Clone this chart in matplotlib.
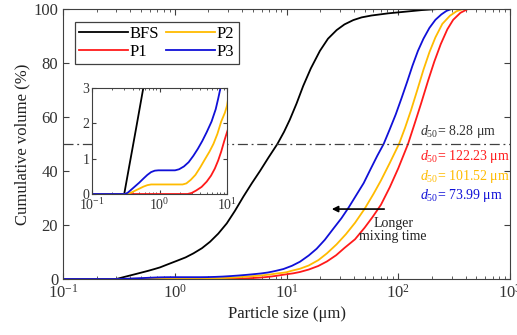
import matplotlib
matplotlib.use('Agg')
import matplotlib.pyplot as plt
from matplotlib.ticker import LogLocator, FixedLocator, NullFormatter

# particle size distributions, cumulative volume (%) vs size (um)
size_bfs = [0.1, 0.30, 0.33, 0.36, 0.40, 0.45, 0.50, 0.575, 0.66, 0.738, 0.85, 1.04, 1.25,
            1.47, 1.75, 2.07, 2.45, 2.92, 3.45, 4.11, 4.9, 5.79, 6.9, 8.28, 9.5, 10.7, 12.3,
            14.1, 16.5, 19.9, 23.5, 28.1, 33, 39.6, 47, 57.7, 81.5, 115, 162, 227, 1000]
cum_bfs = [0, 0, 0.44, 0.84, 1.32, 1.86, 2.35, 3.0, 3.7, 4.3, 5.3, 6.7, 8.0,
           9.5, 11.4, 13.8, 16.8, 20.6, 25.2, 30.5, 35.5, 40.0, 45.0, 50, 54.5, 59.0, 65.0,
           71.5, 78.0, 84.5, 89.0, 92.2, 94.3, 95.9, 96.9, 97.6, 98.4, 99.0, 99.6, 100, 100]

size_p1 = [0.1, 2.6, 3.0, 3.5, 4.2, 5.0, 5.8, 6.6, 7.4, 8.2, 9.1, 10, 11.5, 13.2, 15.8,
           19.2, 23, 27.8, 33, 41, 50, 59, 70, 84, 100, 122.23, 140, 160, 185, 210, 240,
           275, 310, 360, 420, 1000]
cum_p1 = [0, 0, 0.03, 0.1, 0.2, 0.35, 0.52, 0.72, 0.95, 1.2, 1.5, 1.75, 2.1, 2.6, 3.5,
          4.8, 6.5, 8.8, 11.5, 14.7, 19.0, 23.0, 27.5, 34.0, 41.0, 50, 57.5, 65.0, 73.5, 80.5, 87.0,
          92.5, 96.0, 98.6, 100, 100]

size_p2 = [0.1, 0.33, 0.37, 0.42, 0.5, 0.58, 0.66, 0.75, 2.2, 2.5, 2.9, 3.4, 4.0, 4.7,
           5.5, 6.3, 7.2, 8.2, 9.3, 10, 11, 13.2, 15.8, 19.3, 23, 28, 34, 41, 50, 60, 70,
           84, 101.52, 115, 130, 148, 168, 190, 215, 248, 290, 333, 380, 1000]
cum_p2 = [0, 0, 0.03, 0.08, 0.15, 0.21, 0.25, 0.27, 0.27, 0.3, 0.4, 0.54, 0.75, 0.98,
          1.2, 1.42, 1.7, 2.05, 2.3, 2.5, 3.0, 3.8, 5.0, 7.0, 9.5, 12.8, 16.6, 20.8, 26.0, 31.5, 36.5,
          43.0, 50, 56.0, 62.5, 70.0, 77.5, 84.0, 89.5, 94.5, 97.5, 99.2, 100, 100]

size_p3 = [0.1, 0.31, 0.34, 0.38, 0.43, 0.5, 0.58, 0.66, 0.75, 0.85, 0.96, 1.7, 1.95, 2.3,
           2.7, 3.17, 3.7, 4.3, 5.0, 5.9, 6.8, 7.4, 8.0, 9.4, 11.2, 13.2, 15.8, 18.6, 22,
           26.2, 31, 36, 42, 49, 57, 65, 73.99, 84, 95, 107, 120, 134, 150, 168, 190, 215,
           243, 270, 300, 1000]
cum_p3 = [0, 0, 0.04, 0.12, 0.21, 0.32, 0.44, 0.54, 0.62, 0.66, 0.67, 0.67, 0.7, 0.78,
          0.9, 1.08, 1.28, 1.5, 1.75, 2.05, 2.4, 2.7, 3.0, 3.7, 4.9, 6.4, 8.7, 11.2, 14.5,
          18.6, 22.5, 26.5, 31.0, 35.5, 41.0, 45.7, 50, 55.5, 61.0, 67.0, 73.0, 79.0, 84.5, 89.0,
          93.0, 96.0, 98.0, 99.3, 100, 100]

labels = ['BFS', 'P1', 'P2', 'P3']
colors = ['black', '#FF1A1A', '#FFBB00', '#1010D8']
d50 = [8.28, 122.23, 101.52, 73.99]
d50_y = [54.8, 45.2, 38.1, 31.1]

plt.rcParams['font.family'] = 'Liberation Serif'
plt.rcParams['mathtext.fontset'] = 'custom'
plt.rcParams['mathtext.rm'] = 'Liberation Serif'
plt.rcParams['mathtext.it'] = 'Liberation Serif:italic'
plt.rcParams['axes.edgecolor'] = '#404040'
plt.rcParams['xtick.color'] = '#404040'
plt.rcParams['ytick.color'] = '#404040'
plt.rcParams['xtick.labelcolor'] = '#333333'
plt.rcParams['ytick.labelcolor'] = '#333333'


def style_axes(ax, size_major, size_minor):
    ax.set_xscale('log')
    ax.tick_params(which='both', direction='in', top=True, right=True)
    ax.tick_params(which='major', length=size_major)
    ax.tick_params(which='minor', length=size_minor)
    ax.xaxis.set_minor_locator(LogLocator(base=10, subs=range(2, 10), numticks=20))
    ax.xaxis.set_minor_formatter(NullFormatter())


fig = plt.figure(figsize=(5.17, 3.35), dpi=100)
ax = fig.add_axes([0.1219, 0.1672, 0.8646, 0.8059])

curves = [(size_bfs, cum_bfs), (size_p1, cum_p1), (size_p2, cum_p2), (size_p3, cum_p3)]
for (xs, ys), lab, c in zip(curves, labels, colors):
    ax.plot(xs, ys, color=c, lw=1.3, label=lab)

ax.axhline(50, color='#404040', lw=0.9, ls='-.', dashes=(8, 3, 1.5, 3))

style_axes(ax, 4, 2)
ax.set_xlim(0.1, 1000)
ax.set_ylim(0, 100)
ax.yaxis.set_major_locator(FixedLocator([0, 20, 40, 60, 80, 100]))
ax.tick_params(labelsize=12)
ax.set_xlabel('Particle size (μm)', fontsize=12, color='#222222', labelpad=3)
ax.set_ylabel('Cumulative volume (%)', fontsize=12, color='#222222', labelpad=2)

leg = ax.legend(ncol=2, loc='upper left', bbox_to_anchor=(75 / 517, 1 - 22 / 335),
                bbox_transform=fig.transFigure, borderaxespad=0, fontsize=12,
                handlelength=2.9, handletextpad=0.15, columnspacing=0.4,
                labelspacing=0.1, borderpad=0.25, fancybox=False, framealpha=1)
leg.get_frame().set_edgecolor('#404040')
leg.get_frame().set_linewidth(0.9)

for val, yy, c in zip(d50, d50_y, colors):
    c_txt = '#333333' if c == 'black' else c
    ax.text(157, yy, r'$\mathit{d_{50}}$' + '= {:.2f} μm'.format(val), color=c_txt,
            fontsize=10, ha='left', va='center')

ax.annotate('', xy=(24, 25.9), xytext=(79.3, 25.9),
            arrowprops=dict(arrowstyle='-|>', color='black', lw=1.2, mutation_scale=9))
ax.text(89.8, 18.1, 'Longer\nmixing time', fontsize=10, ha='center', va='center',
        linespacing=1.05, color='#222222')

# zoom on the fine end of the distribution
axin = fig.add_axes([0.178, 0.4209, 0.2611, 0.3164])
for (xs, ys), c in zip(curves, colors):
    axin.plot(xs, ys, color=c, lw=1.3)
style_axes(axin, 3, 1.5)
axin.set_xlim(0.1, 10)
axin.set_ylim(0, 3)
axin.yaxis.set_major_locator(FixedLocator([0, 1, 2, 3]))
axin.tick_params(labelsize=10, pad=2)

fig.savefig('out.png', dpi=100)
